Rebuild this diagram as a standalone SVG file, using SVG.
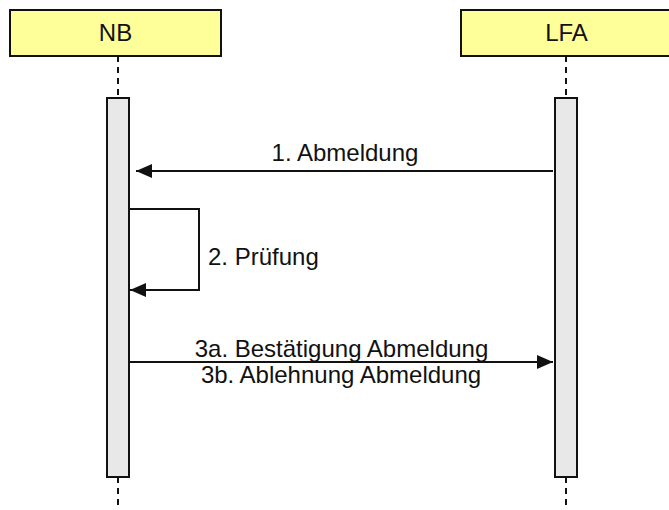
<svg xmlns="http://www.w3.org/2000/svg" width="669" height="510" viewBox="0 0 669 510">
<defs>
<style>
.actor{fill:#ffff99;stroke:#111;stroke-width:2}
.bar{fill:#e8e8e8;stroke:#111;stroke-width:2}
.life{stroke:#111;stroke-width:2;stroke-dasharray:6,5;fill:none}
.msg{stroke:#111;stroke-width:2;fill:none}
text{font-family:"Liberation Sans",Arial,sans-serif;font-size:24px;fill:#111}
</style>
<marker id="ah" markerWidth="16" markerHeight="14" refX="16" refY="7" orient="auto" markerUnits="userSpaceOnUse">
<path d="M0,0 L16,7 L0,14 Z" fill="#111"/>
</marker>
</defs>
<rect width="669" height="510" fill="#fff"/>
<g id="NB">
<rect class="actor" x="10" y="10" width="211" height="46"/>
<text x="115.5" y="41" text-anchor="middle">NB</text>
<line class="life" x1="118" y1="56" x2="118" y2="98"/>
<line class="life" x1="118" y1="477" x2="118" y2="510"/>
<rect class="bar" x="107" y="98" width="22" height="379"/>
</g>
<g id="LFA">
<rect class="actor" x="461" y="10" width="211" height="46"/>
<text x="566.5" y="41" text-anchor="middle">LFA</text>
<line class="life" x1="566" y1="56" x2="566" y2="98"/>
<line class="life" x1="566" y1="477" x2="566" y2="510"/>
<rect class="bar" x="555" y="98" width="22" height="379"/>
</g>
<g id="connectors">
<line class="msg" x1="553" y1="171" x2="136" y2="171" marker-end="url(#ah)"/>
<text x="345" y="161" text-anchor="middle">1. Abmeldung</text>
<polyline class="msg" points="130,209 199,209 199,290 130,290" marker-end="url(#ah)"/>
<text x="208" y="265">2. Prüfung</text>
<line class="msg" x1="130" y1="362" x2="553" y2="362" marker-end="url(#ah)"/>
<text x="341.5" y="357" text-anchor="middle">3a. Bestätigung Abmeldung</text>
<text x="341" y="383" text-anchor="middle">3b. Ablehnung Abmeldung</text>
</g>
</svg>
